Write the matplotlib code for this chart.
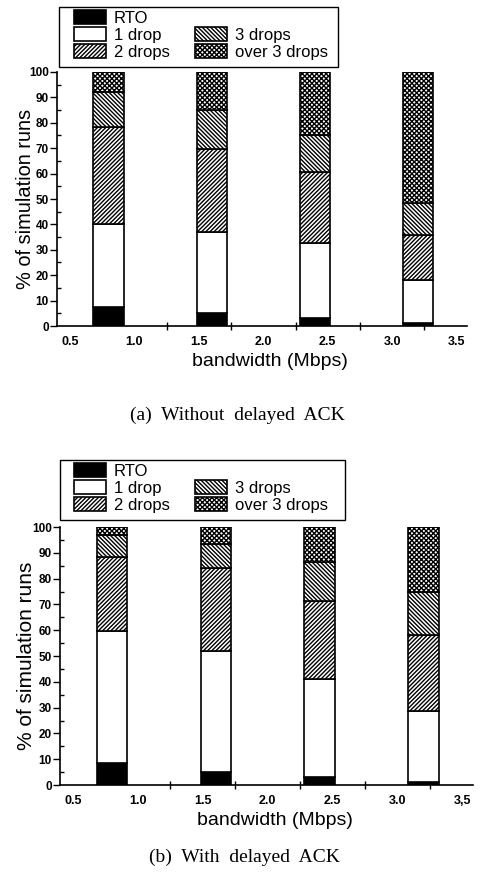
import matplotlib.pyplot as plt
from matplotlib.patches import Patch, Rectangle
import numpy as np

plt.rcParams['hatch.linewidth'] = 1.0

bandwidth = [0.8, 1.6, 2.4, 3.2]
labels = ['RTO', '1 drop', '2 drops', '3 drops', 'over 3 drops']

# (a) without delayed ACK, % of runs per category
rto_a = [7.5, 5, 3, 1]
one_a = [32.5, 32, 29.5, 17]
two_a = [38.5, 32.5, 28, 18]
three_a = [13.5, 15.5, 14.5, 12.5]
over_a = [8, 15, 25, 51.5]

# (b) with delayed ACK
rto_b = [8.5, 5, 3, 1]
one_b = [51, 47, 38, 27.5]
two_b = [29, 32, 30.5, 29.5]
three_b = [8.5, 9.5, 15, 17]
over_b = [3, 6.5, 13.5, 25]

xticks = [0.5, 1.0, 1.5, 2.0, 2.5, 3.0, 3.5]
xticklabels_a = ['0.5', '1.0', '1.5', '2.0', '2.5', '3.0', '3.5']
xticklabels_b = ['0.5', '1.0', '1.5', '2.0', '2.5', '3.0', '3,5']

styles = [dict(color='black'), dict(color='white'), dict(color='white', hatch='/' * 8),
          dict(color='white', hatch='\\' * 8), dict(color='white', hatch='x' * 7)]

fig = plt.figure(figsize=(4.83, 8.8), dpi=100)
ax_a = fig.add_axes([57/483, 1-326/880, 410/483, 254/880])
ax_b = fig.add_axes([60/483, 1-785/880, 413/483, 258/880])


def px(x, y):
    return (x / 483, 1 - y / 880)


def draw(ax, series, ticklabels, ylab_x, ylab_size, frame_box, legend_xy):
    bottom = np.zeros(len(bandwidth))
    handles = []
    for vals, st, lab in zip(series, styles, labels):
        b = ax.bar(bandwidth, vals, width=0.235, bottom=bottom, facecolor=st['color'],
                   edgecolor='black', hatch=st.get('hatch'), linewidth=1.2, label=lab, zorder=3)
        bottom += np.array(vals)
        handles.append(b)
    ax.set_xlim(0.4, 3.58)
    ax.set_ylim(0, 100)
    ax.spines['top'].set_visible(False)
    ax.spines['right'].set_visible(False)
    ax.spines['left'].set_linewidth(1.2)
    ax.spines['bottom'].set_linewidth(1.2)
    ax.set_xticks(xticks)
    ax.set_xticklabels(ticklabels, fontfamily='Liberation Sans', fontweight='bold', fontsize=9)
    ax.tick_params(axis='x', which='major', length=0, pad=7)
    ax.set_xticks([1.25, 1.75, 2.25, 2.75, 3.25], minor=True)
    ax.tick_params(axis='x', which='minor', direction='inout', length=6, width=1)
    ax.set_yticks(range(0, 101, 10))
    ax.set_yticks(range(5, 100, 10), minor=True)
    ax.set_yticklabels([str(v) for v in range(0, 101, 10)], fontfamily='Liberation Sans',
                       fontweight='bold', fontsize=8.5)
    ax.tick_params(axis='y', which='major', direction='out', length=5, width=1, pad=1)
    ax.tick_params(axis='y', which='minor', direction='in', length=3, width=1)
    ax.set_xlabel('bandwidth (Mbps)', fontfamily='Liberation Sans', fontsize=14, va='top')
    ax.xaxis.set_label_coords(0.52, -0.105)
    ax.set_ylabel('% of simulation runs', fontfamily='Liberation Sans', fontsize=ylab_size)
    ax.yaxis.set_label_coords(ylab_x, 0.5)

    x0, y0, x1, y1 = frame_box
    fig.patches.append(Rectangle(px(x0, y1), (x1 - x0) / 483, (y1 - y0) / 880,
                                 transform=fig.transFigure, fill=False,
                                 edgecolor='black', linewidth=1.0))
    blank = Patch(facecolor='none', edgecolor='none', label='')
    h = [handles[0], handles[1], handles[2], blank, handles[3], handles[4]]
    l = [labels[0], labels[1], labels[2], '', labels[3], labels[4]]
    fig.legend(h, l, ncol=2, loc='upper left', bbox_to_anchor=px(*legend_xy),
               prop={'family': 'Liberation Sans', 'size': 12}, frameon=False,
               handlelength=1.9, handleheight=0.9, handletextpad=0.5,
               labelspacing=0.08, columnspacing=1.5, borderpad=0, borderaxespad=0)


draw(ax_a, [rto_a, one_a, two_a, three_a, over_a], xticklabels_a, -0.054, 14.4,
     (59, 7, 338, 67), (74, 10))
draw(ax_b, [rto_b, one_b, two_b, three_b, over_b], xticklabels_b, -0.058, 15,
     (60, 460, 345, 520), (74, 463))

fig.text(237/483, 1-415/880, '(a)  Without  delayed  ACK', fontfamily='Liberation Serif',
         fontsize=14, ha='center', va='center')
fig.text(244/483, 1-857/880, '(b)  With  delayed  ACK', fontfamily='Liberation Serif',
         fontsize=14, ha='center', va='center')

fig.savefig('out.png', dpi=100)
